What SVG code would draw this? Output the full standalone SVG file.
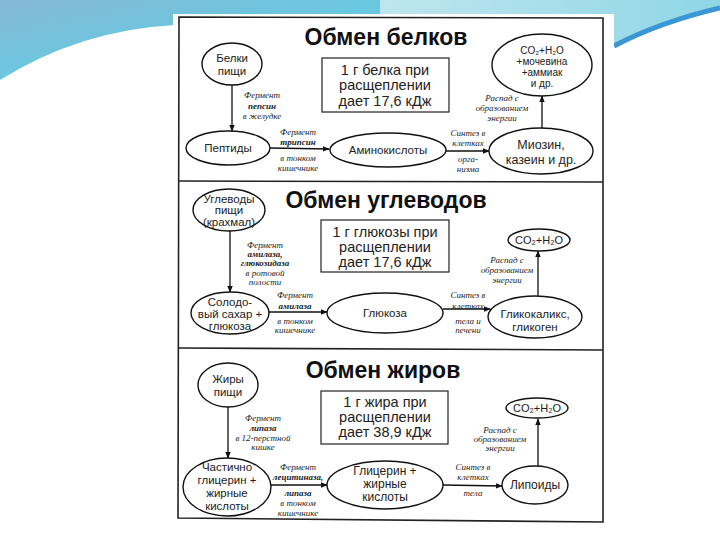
<svg xmlns="http://www.w3.org/2000/svg" width="720" height="540" viewBox="0 0 720 540">
<defs>
<linearGradient id="gl" x1="0" y1="0" x2="1" y2="1">
<stop offset="0" stop-color="#86b8d6"/>
<stop offset="1" stop-color="#4fd6e8"/>
</linearGradient>
<linearGradient id="gr" x1="0" y1="0" x2="1" y2="0">
<stop offset="0" stop-color="#bfe6ee"/>
<stop offset="1" stop-color="#8fd6e6"/>
</linearGradient>
<marker id="ah" viewBox="0 0 10 10" refX="9" refY="5" markerWidth="7" markerHeight="7" orient="auto" markerUnits="userSpaceOnUse">
<path d="M0,1 L10,5 L0,9 Z" fill="#111"/>
</marker>
<style>
.nd{fill:#fff;stroke:#111;stroke-width:1.4}
.bx{fill:#fff;stroke:#222;stroke-width:1.2}
.t{font-family:"Liberation Sans",Arial,sans-serif;font-size:11.5px;fill:#222;text-anchor:middle}
.bt{font-family:"Liberation Sans",Arial,sans-serif;font-size:14.5px;fill:#222;text-anchor:middle}
.ti{font-family:"Liberation Sans",Arial,sans-serif;font-size:23px;font-weight:bold;fill:#111;text-anchor:middle}
.l{font-family:"Liberation Serif","Times New Roman",serif;font-size:9px;font-style:italic;fill:#222;text-anchor:middle}
.lb{font-weight:bold}
.c{stroke:#111;stroke-width:1.3;fill:none;marker-end:url(#ah)}
.fr{stroke:#222;stroke-width:1.6;fill:none}
</style>
</defs>
<rect width="720" height="540" fill="#fff"/>
<g id="background">
<path d="M0,0 H380 V14 H175 V25 Q80,30 0,80 Z" fill="url(#gl)"/>
<path d="M380,0 H720 V10 Q660,24 614,46 V14 H380 Z" fill="url(#gr)"/>
<path d="M614,46 Q660,22 720,8" stroke="#3a96d4" stroke-width="5" fill="none"/>
<rect x="173" y="14" width="441" height="519" fill="#fff"/>
</g>
<g id="frame">
<path class="fr" d="M179,17 L603,18 L603,522 L178,518 Z"/>
<line class="fr" x1="179" y1="181" x2="603" y2="182"/>
<line class="fr" x1="179" y1="348" x2="603" y2="350"/>
</g>
<g id="connectors">
<line class="c" x1="232" y1="85" x2="232" y2="131"/>
<line class="c" x1="270" y1="148" x2="329" y2="149"/>
<line class="c" x1="446" y1="151" x2="489" y2="151"/>
<line class="c" x1="542" y1="128" x2="542" y2="96"/>
<line class="c" x1="230" y1="231" x2="230" y2="292"/>
<line class="c" x1="268" y1="312" x2="327" y2="312"/>
<line class="c" x1="443" y1="309" x2="490" y2="309"/>
<line class="c" x1="538" y1="296" x2="538" y2="251"/>
<line class="c" x1="228" y1="407" x2="228" y2="458"/>
<line class="c" x1="270" y1="485" x2="327" y2="485"/>
<line class="c" x1="443" y1="485" x2="502" y2="486"/>
<line class="c" x1="538" y1="466" x2="538" y2="419"/>
</g>
<g id="labels">
<text class="l" x="262" y="98">Фермент</text>
<text class="l lb" x="262" y="109">пепсин</text>
<text class="l" x="262" y="119">в желудке</text>
<text class="l" x="298" y="135">Фермент</text>
<text class="l lb" x="298" y="145">трипсин</text>
<text class="l" x="298" y="161">в тонком</text>
<text class="l" x="298" y="171">кишечнике</text>
<text class="l" x="468" y="136">Синтез в</text>
<text class="l" x="468" y="146">клетках</text>
<text class="l" x="468" y="162">орга-</text>
<text class="l" x="468" y="172">низма</text>
<text class="l" x="502" y="101">Распад с</text>
<text class="l" x="502" y="111">образованием</text>
<text class="l" x="502" y="121">энергии</text>
<text class="l" x="265" y="248">Фермент</text>
<text class="l lb" x="265" y="257">амилаза,</text>
<text class="l lb" x="265" y="266">глюкозидаза</text>
<text class="l" x="265" y="276">в ротовой</text>
<text class="l" x="265" y="285">полости</text>
<text class="l" x="295" y="298">Фермент</text>
<text class="l lb" x="295" y="309">амилаза</text>
<text class="l" x="295" y="324">в тонком</text>
<text class="l" x="295" y="333">кишечнике</text>
<text class="l" x="468" y="298">Синтез в</text>
<text class="l" x="468" y="309">клетках</text>
<text class="l" x="468" y="324">тела и</text>
<text class="l" x="468" y="333">печени</text>
<text class="l" x="507" y="263">Распад с</text>
<text class="l" x="507" y="273">образованием</text>
<text class="l" x="507" y="283">энергии</text>
<text class="l" x="263" y="421">Фермент</text>
<text class="l lb" x="263" y="431">липаза</text>
<text class="l" x="263" y="441">в 12-перстной</text>
<text class="l" x="263" y="450">кишке</text>
<text class="l" x="298" y="470">Фермент</text>
<text class="l lb" x="298" y="480">лецитиназа,</text>
<text class="l lb" x="298" y="496">липаза</text>
<text class="l" x="298" y="506">в тонком</text>
<text class="l" x="298" y="516">кишечнике</text>
<text class="l" x="473" y="470">Синтез в</text>
<text class="l" x="473" y="480">клетках</text>
<text class="l" x="473" y="496">тела</text>
<text class="l" x="500" y="433">Распад с</text>
<text class="l" x="500" y="442">образованием</text>
<text class="l" x="500" y="451">энергии</text>
</g>
<g id="title-proteins"><text class="ti" x="386" y="45">Обмен белков</text></g>
<g id="title-carbs"><text class="ti" x="386" y="208">Обмен углеводов</text></g>
<g id="title-fats"><text class="ti" x="383" y="378">Обмен жиров</text></g>
<g id="box-proteins">
<rect class="bx" x="322" y="58" width="127" height="54"/>
<text class="bt" x="385" y="75">1 г белка при</text>
<text class="bt" x="385" y="90">расщеплении</text>
<text class="bt" x="385" y="106">дает 17,6 кДж</text>
</g>
<g id="box-carbs">
<rect class="bx" x="321" y="220" width="128" height="52"/>
<text class="bt" x="385" y="237">1 г глюкозы при</text>
<text class="bt" x="385" y="252">расщеплении</text>
<text class="bt" x="385" y="267">дает 17,6 кДж</text>
</g>
<g id="box-fats">
<rect class="bx" x="321" y="391" width="127" height="53"/>
<text class="bt" x="385" y="407">1 г жира при</text>
<text class="bt" x="385" y="422">расщеплении</text>
<text class="bt" x="385" y="437">дает 38,9 кДж</text>
</g>
<g id="n-belki">
<ellipse class="nd" cx="232" cy="64" rx="30" ry="21"/>
<text class="t" x="232" y="62">Белки</text>
<text class="t" x="232" y="75">пищи</text>
</g>
<g id="n-peptidy">
<ellipse class="nd" cx="228" cy="148" rx="42" ry="17"/>
<text class="t" x="228" y="152">Пептиды</text>
</g>
<g id="n-aminokisloty">
<ellipse class="nd" cx="388" cy="150" rx="58" ry="17"/>
<text class="t" x="388" y="154">Аминокислоты</text>
</g>
<g id="n-miozin">
<ellipse class="nd" cx="541" cy="151" rx="52" ry="23"/>
<text class="t" x="541" y="149" style="font-size:12.5px">Миозин,</text>
<text class="t" x="541" y="164" style="font-size:12.5px">казеин и др.</text>
</g>
<g id="n-co2-proteins">
<ellipse class="nd" cx="542" cy="65" rx="50" ry="31"/>
<text class="t" x="542" y="54" style="font-size:10px">CO₂+H₂O</text>
<text class="t" x="542" y="65" style="font-size:10px">+мочевина</text>
<text class="t" x="542" y="76" style="font-size:10px">+аммиак</text>
<text class="t" x="542" y="87" style="font-size:10px">и др.</text>
</g>
<g id="n-uglevody">
<ellipse class="nd" cx="229" cy="210" rx="36" ry="21"/>
<text class="t" x="229" y="203">Углеводы</text>
<text class="t" x="229" y="214">пищи</text>
<text class="t" x="229" y="226">(крахмал)</text>
</g>
<g id="n-solod">
<ellipse class="nd" cx="230" cy="313" rx="39" ry="21"/>
<text class="t" x="230" y="306">Солодо-</text>
<text class="t" x="230" y="318">вый сахар +</text>
<text class="t" x="230" y="330">глюкоза</text>
</g>
<g id="n-glukoza">
<ellipse class="nd" cx="385" cy="313" rx="58" ry="20"/>
<text class="t" x="385" y="317">Глюкоза</text>
</g>
<g id="n-glikokaliks">
<ellipse class="nd" cx="535" cy="317" rx="47" ry="21"/>
<text class="t" x="535" y="318">Гликокаликс,</text>
<text class="t" x="535" y="331">гликоген</text>
</g>
<g id="n-co2-carbs">
<ellipse class="nd" cx="539" cy="240" rx="31" ry="11"/>
<text class="t" x="539" y="244" style="font-size:11px">CO₂+H₂O</text>
</g>
<g id="n-zhiry">
<ellipse class="nd" cx="228" cy="385" rx="30" ry="22"/>
<text class="t" x="228" y="383">Жиры</text>
<text class="t" x="228" y="396">пищи</text>
</g>
<g id="n-chastichno">
<ellipse class="nd" cx="227" cy="487" rx="44" ry="29"/>
<text class="t" x="227" y="471">Частично</text>
<text class="t" x="227" y="484">глицерин +</text>
<text class="t" x="227" y="497">жирные</text>
<text class="t" x="227" y="510">кислоты</text>
</g>
<g id="n-glicerin">
<ellipse class="nd" cx="385" cy="485" rx="58" ry="24"/>
<text class="t" x="385" y="475" style="font-size:12px">Глицерин +</text>
<text class="t" x="385" y="488" style="font-size:12px">жирные</text>
<text class="t" x="385" y="501" style="font-size:12px">кислоты</text>
</g>
<g id="n-lipoidy">
<ellipse class="nd" cx="535" cy="485" rx="33" ry="19"/>
<text class="t" x="535" y="489" style="font-size:12px">Липоиды</text>
</g>
<g id="n-co2-fats">
<ellipse class="nd" cx="537" cy="408" rx="31" ry="10"/>
<text class="t" x="537" y="412" style="font-size:11px">CO₂+H₂O</text>
</g>
</svg>
